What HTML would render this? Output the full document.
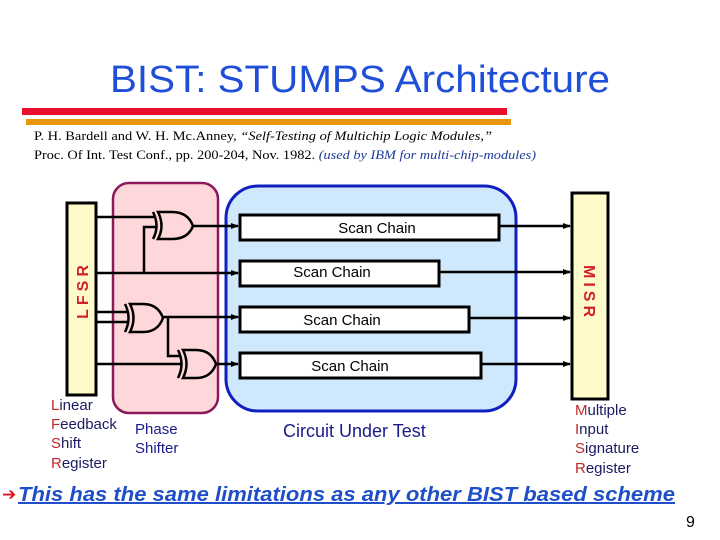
<!DOCTYPE html>
<html><head><meta charset="utf-8"><style>
body{margin:0;background:#fff;}
svg{display:block;}
</style></head><body>
<svg width="720" height="540" viewBox="0 0 720 540" xmlns="http://www.w3.org/2000/svg">
<defs>
<marker id="ar" markerWidth="8" markerHeight="8" refX="7" refY="4" orient="auto" markerUnits="userSpaceOnUse">
<path d="M0,1 L8,4 L0,7 Z" fill="#000"/></marker>
</defs>
<text x="110" y="92" textLength="500" lengthAdjust="spacingAndGlyphs" font-family="Liberation Sans, sans-serif" font-size="38" fill="#1f4fd8">BIST: STUMPS Architecture</text>
<rect x="22" y="108" width="485" height="7" fill="#e8102e"/>
<rect x="26" y="119" width="485" height="6" fill="#e8960c"/>
<text x="34" y="140" textLength="458" lengthAdjust="spacingAndGlyphs" font-family="Liberation Serif, serif" font-size="13" fill="#000">P. H. Bardell and W. H. Mc.Anney, <tspan font-style="italic">“Self-Testing of Multichip Logic Modules,”</tspan></text>
<text x="34" y="159" textLength="502" lengthAdjust="spacingAndGlyphs" font-family="Liberation Serif, serif" font-size="13" fill="#000">Proc. Of Int. Test Conf., pp. 200-204, Nov. 1982. <tspan font-style="italic" fill="#1a3a9c">(used by IBM for multi-chip-modules)</tspan></text>

<rect x="113" y="183" width="105" height="230" rx="16" fill="#fdd7d9" stroke="#8b1a5a" stroke-width="2.5"/>
<rect x="226" y="186" width="290" height="225" rx="32" fill="#cfe8fb" stroke="#1020c0" stroke-width="3"/>
<rect x="67" y="203" width="29" height="192" fill="#fffbc8" stroke="#000" stroke-width="3"/>
<text transform="translate(88,290) rotate(-90)" text-anchor="middle" font-family="Liberation Sans, sans-serif" font-weight="bold" font-size="16" fill="#d0202a" letter-spacing="4">LFSR</text>
<rect x="572" y="193" width="36" height="206" fill="#fffbc8" stroke="#000" stroke-width="3"/>
<text transform="translate(584,293) rotate(90)" text-anchor="middle" font-family="Liberation Sans, sans-serif" font-weight="bold" font-size="16" fill="#d0202a" letter-spacing="4">MISR</text>

<g fill="#fff" stroke="#000" stroke-width="3">
<rect x="240" y="215" width="259" height="25"/>
<rect x="240" y="261" width="199" height="25"/>
<rect x="240" y="307" width="229" height="25"/>
<rect x="240" y="353" width="241" height="25"/>
</g>
<g font-family="Liberation Sans, sans-serif" font-size="15" fill="#000" text-anchor="middle">
<text x="377" y="233">Scan Chain</text>
<text x="332" y="277">Scan Chain</text>
<text x="342" y="325">Scan Chain</text>
<text x="350" y="371">Scan Chain</text>
</g>

<g stroke="#000" stroke-width="2.5" fill="none">
<line x1="96" y1="217" x2="156" y2="217"/>
<polyline points="157,227 144,227 144,273"/>
<line x1="96" y1="273" x2="238" y2="273" marker-end="url(#ar)"/>
<line x1="193" y1="226" x2="238" y2="226" marker-end="url(#ar)"/>
<line x1="96" y1="312" x2="128" y2="312"/>
<line x1="96" y1="322" x2="128" y2="322"/>
<line x1="163" y1="317" x2="238" y2="317" marker-end="url(#ar)"/>
<polyline points="168,317 168,356 181,356"/>
<line x1="96" y1="364" x2="181" y2="364"/>
<line x1="216" y1="364" x2="238" y2="364" marker-end="url(#ar)"/>
<line x1="499" y1="226" x2="570" y2="226" marker-end="url(#ar)"/>
<line x1="439" y1="272" x2="570" y2="272" marker-end="url(#ar)"/>
<line x1="469" y1="318" x2="570" y2="318" marker-end="url(#ar)"/>
<line x1="481" y1="364" x2="570" y2="364" marker-end="url(#ar)"/>
</g>

<g stroke="#000" stroke-width="2.5" fill="#fdd7d9">
<path d="M158,212 L172,212 Q188,212 193,226 Q188,239 172,239 L158,239 Q165,226 158,212 Z"/>
<path d="M153,212 Q160,226 153,239" fill="none"/>
<path d="M130,304 L143,304 Q158,304 163,318 Q158,332 143,332 L130,332 Q137,318 130,304 Z"/>
<path d="M125,304 Q132,318 125,332" fill="none"/>
<path d="M183,350 L196,350 Q211,350 216,364 Q211,378 196,378 L183,378 Q190,364 183,350 Z"/>
<path d="M178,350 Q185,364 178,378" fill="none"/>
</g>

<g font-family="Liberation Sans, sans-serif" font-size="15" fill="#1a1a60">
<text x="51" y="410"><tspan fill="#c02828">L</tspan>inear</text>
<text x="51" y="429"><tspan fill="#c02828">F</tspan>eedback</text>
<text x="51" y="448"><tspan fill="#c02828">S</tspan>hift</text>
<text x="51" y="468"><tspan fill="#c02828">R</tspan>egister</text>
<text x="135" y="434" fill="#1a1a8c">Phase</text>
<text x="135" y="453" fill="#1a1a8c">Shifter</text>
<text x="575" y="415"><tspan fill="#c02828">M</tspan>ultiple</text>
<text x="575" y="434"><tspan fill="#c02828">I</tspan>nput</text>
<text x="575" y="453"><tspan fill="#c02828">S</tspan>ignature</text>
<text x="575" y="473"><tspan fill="#c02828">R</tspan>egister</text>
</g>
<text x="283" y="437" font-family="Liberation Sans, sans-serif" font-size="18" fill="#1a1a8c">Circuit Under Test</text>

<text x="2" y="500" font-family="DejaVu Sans, sans-serif" font-size="17" font-weight="bold" fill="#e01020">➔</text>
<text x="18" y="501" textLength="657" lengthAdjust="spacingAndGlyphs" font-family="Liberation Sans, sans-serif" font-size="20" font-weight="bold" font-style="italic" fill="#1f4fc8" text-decoration="underline">This has the same limitations as any other BIST based scheme</text>
<text x="686" y="527" font-family="Liberation Sans, sans-serif" font-size="16" fill="#000">9</text>
</svg>
</body></html>
